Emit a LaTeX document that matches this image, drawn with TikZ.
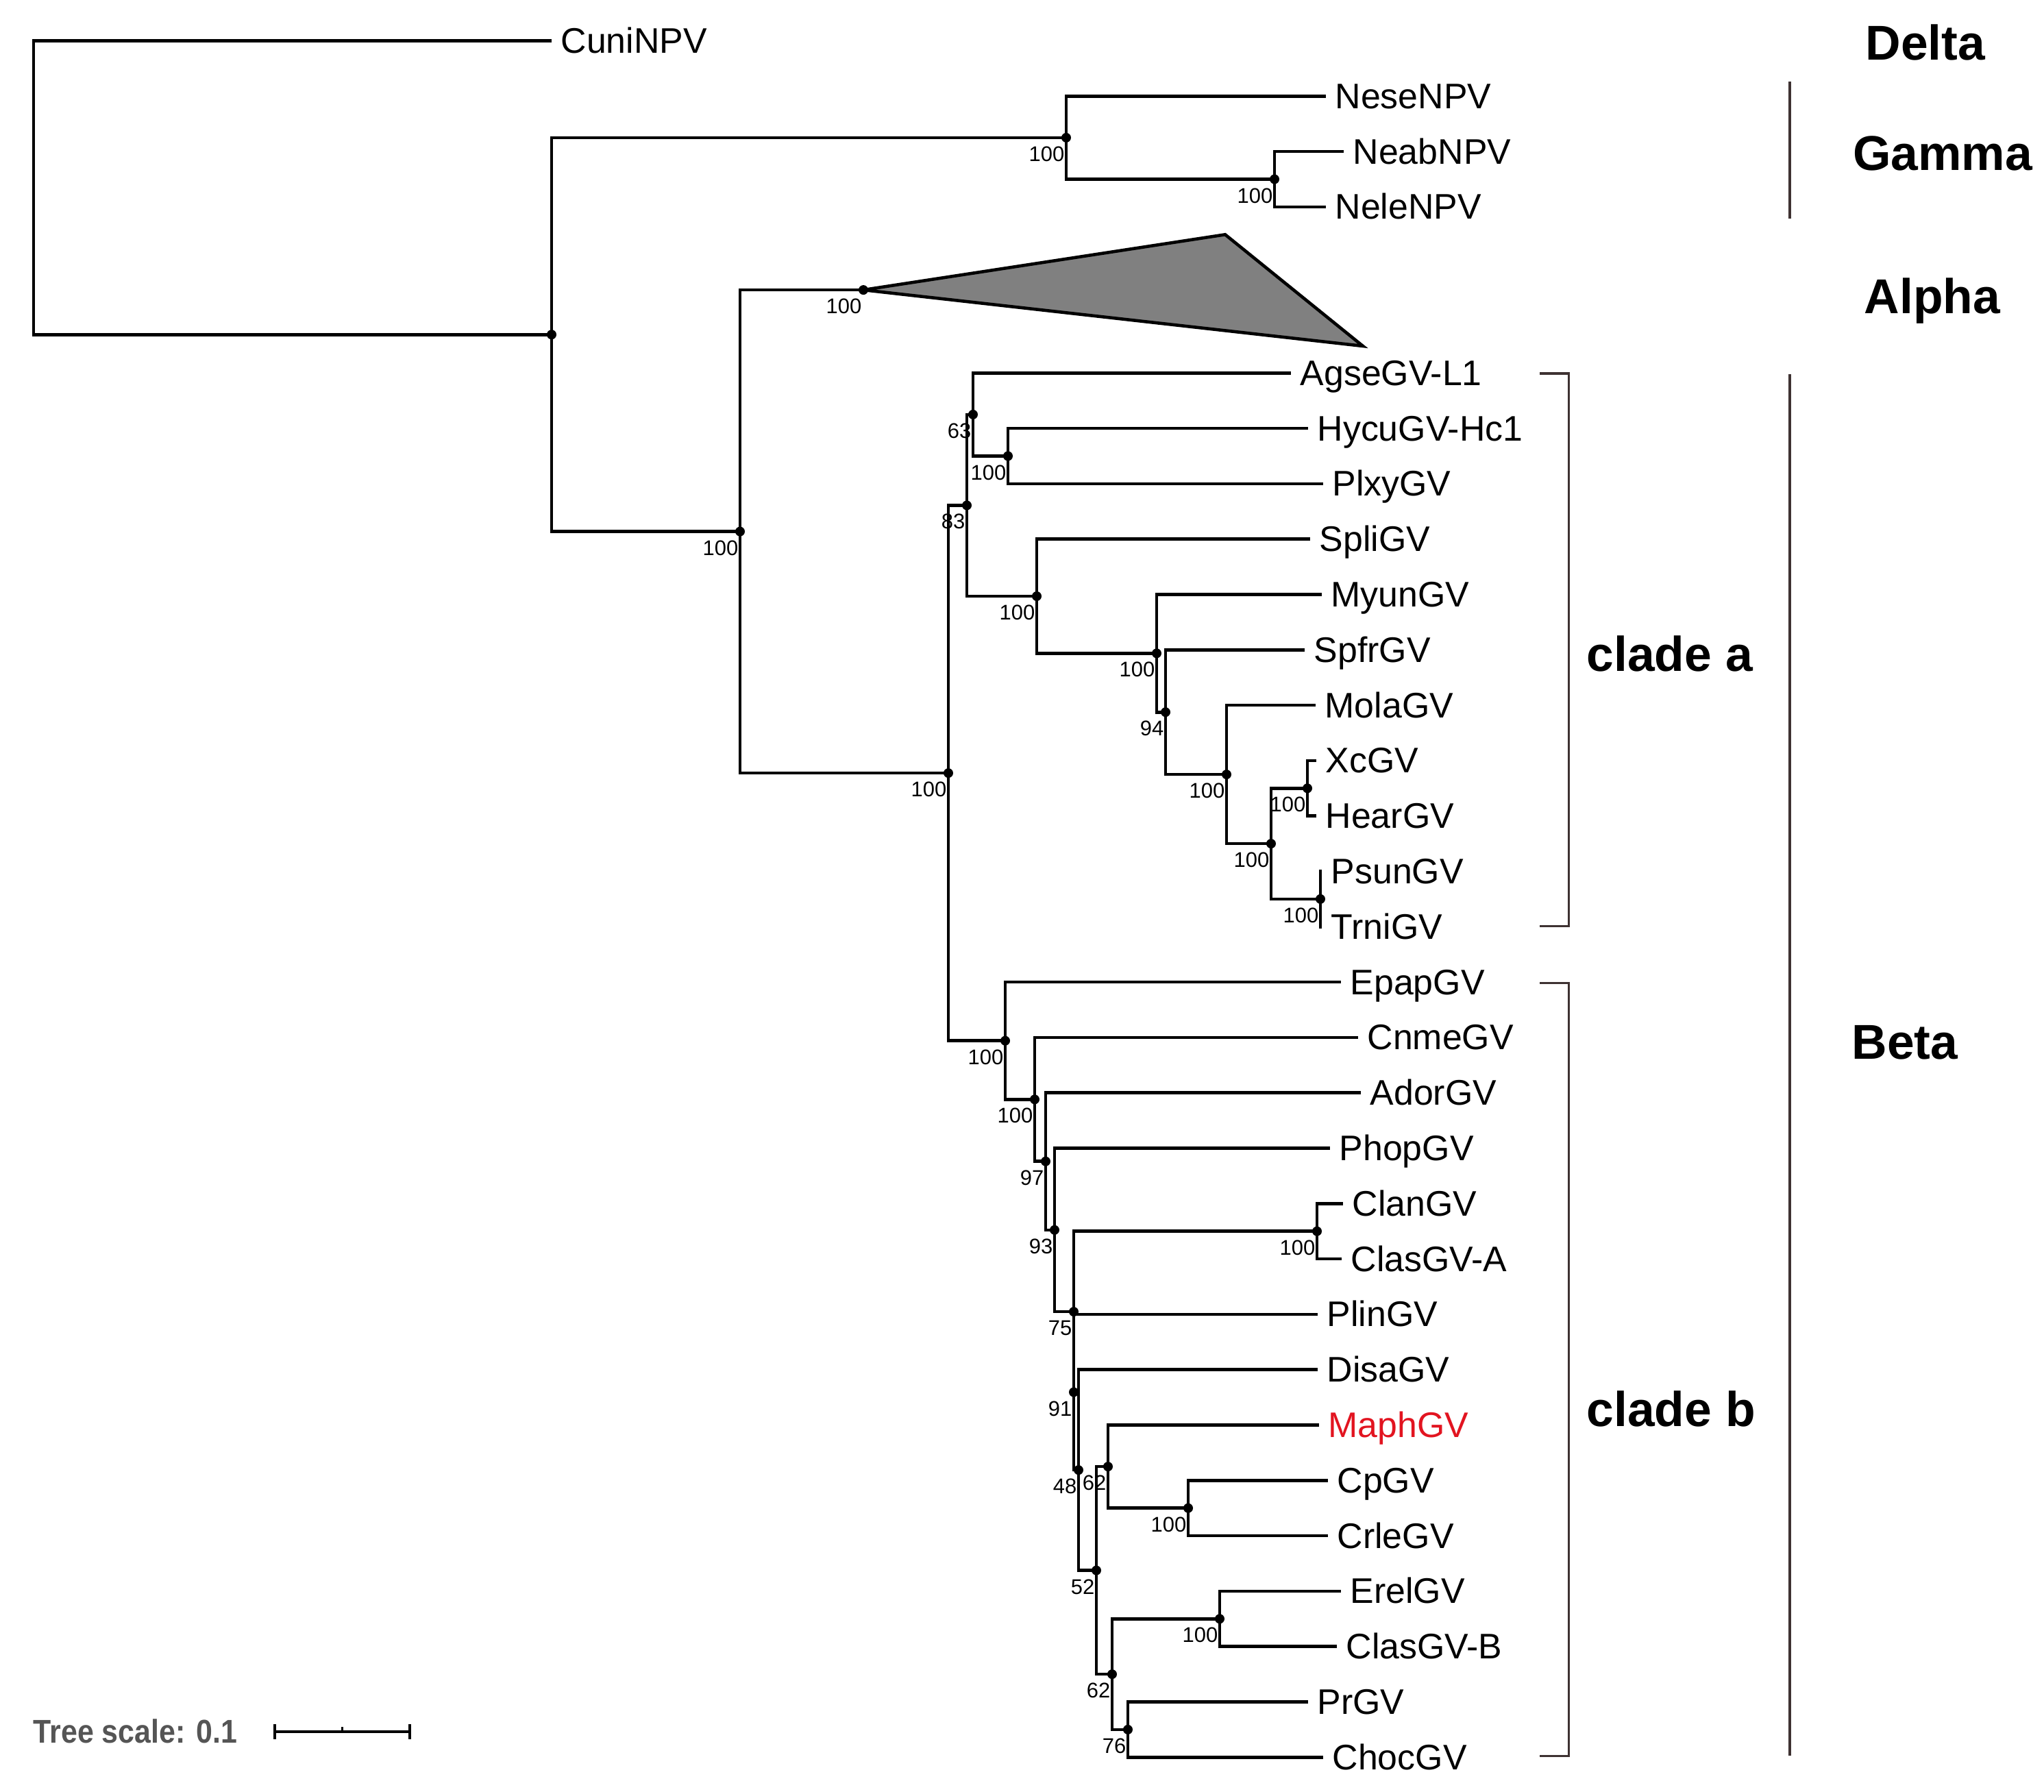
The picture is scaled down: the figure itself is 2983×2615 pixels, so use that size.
\documentclass[tikz,border=0pt]{standalone}
\usepackage{fontspec}
\setmainfont{Liberation Sans}
\definecolor{barc}{RGB}{62,50,50}
\definecolor{scgray}{RGB}{85,85,85}
\definecolor{maphred}{RGB}{226,20,32}
\definecolor{trigray}{RGB}{128,128,128}
\begin{document}
\begin{tikzpicture}[x=0.01cm,y=-0.01cm,
  br/.style={line width=0.046cm, line join=miter},
  leaf/.style={anchor=base west, inner sep=0pt, xshift=0.13cm, yshift=-0.18cm, font=\fontsize{14.74}{16}\selectfont},
  bs/.style={anchor=base east, inner sep=0pt, xshift=-0.02cm, yshift=-0.345cm, font=\fontsize{8.8}{10}\selectfont},
  grp/.style={anchor=base, inner sep=0pt, font=\fontsize{20.3}{24}\selectfont\bfseries},
  clade/.style={anchor=base west, inner sep=0pt, font=\fontsize{20.3}{24}\selectfont\bfseries},
  bar/.style={line width=0.035cm, draw=barc},
  ndot/.style={fill=black}]
\useasboundingbox (0,0) rectangle (2983,2615);

% leaf tips
\coordinate (tCuni) at (805,59.5);
\coordinate (tNese) at (1935,140.3);
\coordinate (tNeab) at (1961,221.1);
\coordinate (tNele) at (1935,301.9);
\coordinate (tAgse) at (1884,544.3);
\coordinate (tHycu) at (1909,625.1);
\coordinate (tPlxy) at (1931,705.9);
\coordinate (tSpli) at (1912,786.7);
\coordinate (tMyun) at (1929,867.5);
\coordinate (tSpfr) at (1904,948.3);
\coordinate (tMola) at (1920,1029.1);
\coordinate (tXc) at (1921,1109.9);
\coordinate (tHear) at (1921,1190.7);
\coordinate (tPsun) at (1929,1271.5);
\coordinate (tTrni) at (1929,1352.3);
\coordinate (tEpap) at (1957,1433.1);
\coordinate (tCnme) at (1982,1513.9);
\coordinate (tAdor) at (1986,1594.7);
\coordinate (tPhop) at (1941,1675.5);
\coordinate (tClan) at (1960,1756.3);
\coordinate (tClasA) at (1958,1837.1);
\coordinate (tPlin) at (1923,1917.9);
\coordinate (tDisa) at (1923,1998.7);
\coordinate (tMaph) at (1925,2079.5);
\coordinate (tCp) at (1938,2160.3);
\coordinate (tCrle) at (1938,2241.1);
\coordinate (tErel) at (1957,2321.9);
\coordinate (tClasB) at (1951,2402.7);
\coordinate (tPr) at (1909,2483.5);
\coordinate (tChoc) at (1931,2564.3);

% internal nodes
\coordinate (R) at (49,273.9);
\coordinate (N1) at (805,488.25);
\coordinate (Gam) at (1556,200.9);
\coordinate (NN) at (1860,261.5);
\coordinate (AB) at (1080,775.6);
\coordinate (Alp) at (1260,423.1);
\coordinate (Bet) at (1384,1128.1);
\coordinate (CA) at (1411,737.45);
\coordinate (N63) at (1420,604.9);
\coordinate (NHy) at (1471,665.5);
\coordinate (NSp) at (1513,870.0);
\coordinate (NA) at (1688,953.35);
\coordinate (NB) at (1701,1039.2);
\coordinate (NC) at (1790,1130.1);
\coordinate (ND) at (1855,1231.1);
\coordinate (NXc) at (1908,1150.3);
\coordinate (NPs) at (1927,1311.9);
\coordinate (CB) at (1467,1518.7);
\coordinate (N2) at (1510,1604.3);
\coordinate (N97) at (1526,1694.75);
\coordinate (N93) at (1539,1794.8);
\coordinate (N75) at (1567,1914.1);
\coordinate (NCl) at (1922,1796.7);
\coordinate (N91) at (1567,2031.5);
\coordinate (N48) at (1574,2145.15);
\coordinate (N52) at (1600,2291.6);
\coordinate (N62a) at (1617,2140.1);
\coordinate (NCp) at (1734,2200.7);
\coordinate (N62b) at (1623,2443.1);
\coordinate (NEr) at (1780,2362.3);
\coordinate (N76) at (1646,2523.9);

% alpha collapsed clade
\coordinate (AlT) at (1788,342.3);
\coordinate (AlB) at (1989,505);
\filldraw[br, fill=trigray] (Alp) -- (AlT) -- (AlB) -- cycle;

% branches
\draw[br] (R) |- (tCuni);
\draw[br] (R) |- (N1);
\draw[br] (N1) |- (Gam);
\draw[br] (N1) |- (AB);
\draw[br] (Gam) |- (tNese);
\draw[br] (Gam) |- (NN);
\draw[br] (NN) |- (tNeab);
\draw[br] (NN) |- (tNele);
\draw[br] (AB) |- (Alp);
\draw[br] (AB) |- (Bet);
\draw[br] (Bet) |- (CA);
\draw[br] (Bet) |- (CB);
\draw[br] (CA) |- (N63);
\draw[br] (CA) |- (NSp);
\draw[br] (N63) |- (tAgse);
\draw[br] (N63) |- (NHy);
\draw[br] (NHy) |- (tHycu);
\draw[br] (NHy) |- (tPlxy);
\draw[br] (NSp) |- (tSpli);
\draw[br] (NSp) |- (NA);
\draw[br] (NA) |- (tMyun);
\draw[br] (NA) |- (NB);
\draw[br] (NB) |- (tSpfr);
\draw[br] (NB) |- (NC);
\draw[br] (NC) |- (tMola);
\draw[br] (NC) |- (ND);
\draw[br] (ND) |- (NXc);
\draw[br] (ND) |- (NPs);
\draw[br] (NXc) |- (tXc);
\draw[br] (NXc) |- (tHear);
\draw[br] (NPs) |- (tPsun);
\draw[br] (NPs) |- (tTrni);
\draw[br] (CB) |- (tEpap);
\draw[br] (CB) |- (N2);
\draw[br] (N2) |- (tCnme);
\draw[br] (N2) |- (N97);
\draw[br] (N97) |- (tAdor);
\draw[br] (N97) |- (N93);
\draw[br] (N93) |- (tPhop);
\draw[br] (N93) |- (N75);
\draw[br] (N75) |- (NCl);
\draw[br] (N75) |- (N91);
\draw[br] (NCl) |- (tClan);
\draw[br] (NCl) |- (tClasA);
\draw[br] (N91) |- (tPlin);
\draw[br] (N91) |- (N48);
\draw[br] (N48) |- (tDisa);
\draw[br] (N48) |- (N52);
\draw[br] (N52) |- (N62a);
\draw[br] (N52) |- (N62b);
\draw[br] (N62a) |- (tMaph);
\draw[br] (N62a) |- (NCp);
\draw[br] (NCp) |- (tCp);
\draw[br] (NCp) |- (tCrle);
\draw[br] (N62b) |- (NEr);
\draw[br] (N62b) |- (N76);
\draw[br] (NEr) |- (tErel);
\draw[br] (NEr) |- (tClasB);
\draw[br] (N76) |- (tPr);
\draw[br] (N76) |- (tChoc);

% node dots
\foreach \n in {N1,Gam,NN,AB,Alp,Bet,CA,N63,NHy,NSp,NA,NB,NC,ND,NXc,NPs,CB,N2,N97,N93,N75,NCl,N91,N48,N52,N62a,NCp,N62b,NEr,N76}
  \fill[ndot] (\n) circle[radius=0.07cm];

% bootstrap values
\node[bs] (bGam) at (Gam) {100};
\node[bs] (bNN) at (NN) {100};
\node[bs] (bAlp) at (Alp) {100};
\node[bs] (bAB) at (AB) {100};
\node[bs] (bBet) at (Bet) {100};
\node[bs] (bCA) at (CA) {83};
\node[bs] (bN63) at (N63) {63};
\node[bs] (bNHy) at (NHy) {100};
\node[bs] (bNSp) at (NSp) {100};
\node[bs] (bNA) at (NA) {100};
\node[bs] (bNB) at (NB) {94};
\node[bs] (bNC) at (NC) {100};
\node[bs] (bND) at (ND) {100};
\node[bs] (bNXc) at (NXc) {100};
\node[bs] (bNPs) at (NPs) {100};
\node[bs] (bCB) at (CB) {100};
\node[bs] (bN2) at (N2) {100};
\node[bs] (bN97) at (N97) {97};
\node[bs] (bN93) at (N93) {93};
\node[bs] (bNCl) at (NCl) {100};
\node[bs] (bN75) at (N75) {75};
\node[bs] (bN91) at (N91) {91};
\node[bs] (bN48) at (N48) {48};
\node[bs] (bN62a) at (N62a) {62};
\node[bs] (bNCp) at (NCp) {100};
\node[bs] (bN52) at (N52) {52};
\node[bs] (bNEr) at (NEr) {100};
\node[bs] (bN62b) at (N62b) {62};
\node[bs] (bN76) at (N76) {76};

% leaf labels
\node[leaf] (Cuni) at (tCuni) {CuniNPV};
\node[leaf] (Nese) at (tNese) {NeseNPV};
\node[leaf] (Neab) at (tNeab) {NeabNPV};
\node[leaf] (Nele) at (tNele) {NeleNPV};
\node[leaf] (Agse) at (tAgse) {AgseGV-L1};
\node[leaf] (Hycu) at (tHycu) {HycuGV-Hc1};
\node[leaf] (Plxy) at (tPlxy) {PlxyGV};
\node[leaf] (Spli) at (tSpli) {SpliGV};
\node[leaf] (Myun) at (tMyun) {MyunGV};
\node[leaf] (Spfr) at (tSpfr) {SpfrGV};
\node[leaf] (Mola) at (tMola) {MolaGV};
\node[leaf] (Xc) at (tXc) {XcGV};
\node[leaf] (Hear) at (tHear) {HearGV};
\node[leaf] (Psun) at (tPsun) {PsunGV};
\node[leaf] (Trni) at (tTrni) {TrniGV};
\node[leaf] (Epap) at (tEpap) {EpapGV};
\node[leaf] (Cnme) at (tCnme) {CnmeGV};
\node[leaf] (Ador) at (tAdor) {AdorGV};
\node[leaf] (Phop) at (tPhop) {PhopGV};
\node[leaf] (Clan) at (tClan) {ClanGV};
\node[leaf] (ClasA) at (tClasA) {ClasGV-A};
\node[leaf] (Plin) at (tPlin) {PlinGV};
\node[leaf] (Disa) at (tDisa) {DisaGV};
\node[leaf, text=maphred] (Maph) at (tMaph) {MaphGV};
\node[leaf] (Cp) at (tCp) {CpGV};
\node[leaf] (Crle) at (tCrle) {CrleGV};
\node[leaf] (Erel) at (tErel) {ErelGV};
\node[leaf] (ClasB) at (tClasB) {ClasGV-B};
\node[leaf] (Pr) at (tPr) {PrGV};
\node[leaf] (Choc) at (tChoc) {ChocGV};

% group bars and brackets
\coordinate (gT) at (2612,119);
\coordinate (gB) at (2612,319);
\draw[bar] (gT) -- (gB);
\coordinate (bT) at (2612,546);
\coordinate (bB) at (2612,2562);
\draw[bar] (bT) -- (bB);
\coordinate (caT) at (2247,545);
\coordinate (caB) at (2247,1351);
\draw[bar, line width=0.03cm] (caT) -- ++(42,0) |- (caB);
\coordinate (cbT) at (2247,1434);
\coordinate (cbB) at (2247,2562);
\draw[bar, line width=0.03cm] (cbT) -- ++(42,0) |- (cbB);

% group labels
\node[grp] (Delta) at (2810,88) {Delta};
\node[grp] (Gamma) at (2835,249) {Gamma};
\node[grp] (Alpha) at (2820,458) {Alpha};
\node[grp] (Beta) at (2780,1545) {Beta};
\node[clade] (cla) at (2315,979) {clade a};
\node[clade] (clb) at (2315,2081) {clade b};

% tree scale
\node[anchor=base west, inner sep=0pt, text=scgray, font=\fontsize{12.2}{14}\selectfont\bfseries, yscale=1.12] (ts) at (48,2543) {Tree scale: 0.1};
\coordinate (sbL) at (401,2527);
\coordinate (sbR) at (598,2527);
\coordinate (sbM) at (499,2527);
\draw[line width=0.04cm] (sbL) -- (sbR);
\draw[line width=0.04cm] ([yshift=0.11cm]sbL) -- ([yshift=-0.11cm]sbL);
\draw[line width=0.04cm] ([yshift=0.11cm]sbR) -- ([yshift=-0.11cm]sbR);
\draw[line width=0.03cm] (sbM) -- ([yshift=0.07cm]sbM);
\end{tikzpicture}
\end{document}
